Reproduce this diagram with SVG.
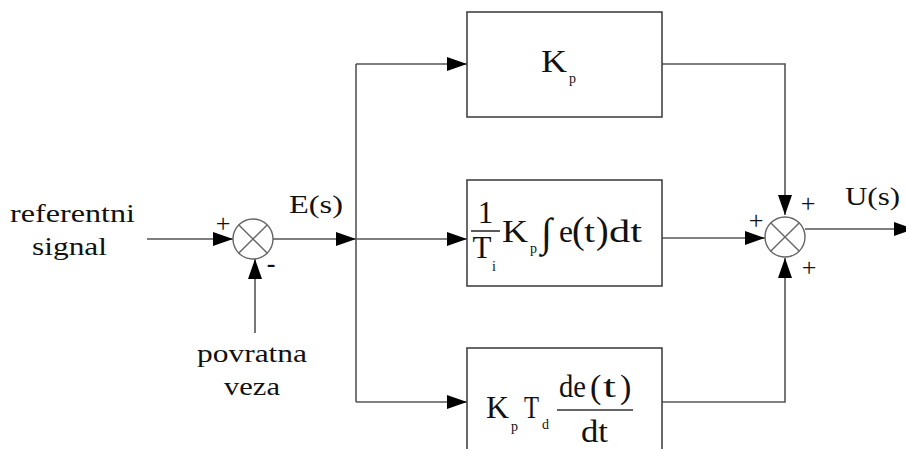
<svg xmlns="http://www.w3.org/2000/svg" width="906" height="449" viewBox="0 0 906 449">
<defs>
<style>
.ln{fill:none;stroke:#555;stroke-width:1.6}
.bx{fill:#fff;stroke:#444;stroke-width:1.6}
.sj{fill:#fff;stroke:#666;stroke-width:1.4}
.lab{font-size:25px}
.f{font-size:31px}
.s{font-size:14px}
.sg{font-size:26px}
</style>
<marker id="ar" viewBox="0 0 20 14" refX="20" refY="7" markerWidth="20" markerHeight="14" markerUnits="userSpaceOnUse" orient="auto">
<path d="M0,0 L20,7 L0,14 Z" fill="#000"/>
</marker>
</defs>
<rect width="906" height="449" fill="#fff"/>
<g id="connectors">
<line class="ln" x1="147" y1="239" x2="233" y2="239" marker-end="url(#ar)"/>
<line class="ln" x1="255" y1="333" x2="255" y2="259" marker-end="url(#ar)"/>
<line class="ln" x1="273" y1="239" x2="356" y2="239" marker-end="url(#ar)"/>
<line class="ln" x1="356" y1="64" x2="356" y2="402"/>
<polyline class="ln" points="356,64 467,64" marker-end="url(#ar)"/>
<line class="ln" x1="356" y1="239" x2="467" y2="239" marker-end="url(#ar)"/>
<polyline class="ln" points="356,402 467,402" marker-end="url(#ar)"/>
<polyline class="ln" points="662,64 785,64 785,215" marker-end="url(#ar)"/>
<line class="ln" x1="662" y1="238" x2="765" y2="238" marker-end="url(#ar)"/>
<polyline class="ln" points="662,402 785,402 785,258" marker-end="url(#ar)"/>
<line class="ln" x1="805" y1="229" x2="914" y2="229" marker-end="url(#ar)"/>
</g>
<g font-family="Liberation Serif, DejaVu Serif, Times New Roman, Times, serif" fill="#111">
<g id="sum1">
<circle class="sj" cx="253" cy="239" r="20"/>
<path class="sj" d="M238.9,224.9 L267.1,253.1 M267.1,224.9 L238.9,253.1"/>
<text class="sg" x="223" y="232" text-anchor="middle">+</text>
<text class="sg" x="271" y="272" text-anchor="middle" font-weight="bold">-</text>
</g>
<g id="sum2">
<circle class="sj" cx="785" cy="237" r="20"/>
<path class="sj" d="M770.9,222.9 L799.1,251.1 M799.1,222.9 L770.9,251.1"/>
<text class="sg" x="756" y="229" text-anchor="middle">+</text>
<text class="sg" x="808" y="212" text-anchor="middle">+</text>
<text class="sg" x="809" y="276" text-anchor="middle">+</text>
</g>
<g id="label-ref">
<text class="lab" x="10" y="222" textLength="125" lengthAdjust="spacingAndGlyphs">referentni</text>
<text class="lab" x="32" y="255" textLength="75" lengthAdjust="spacingAndGlyphs">signal</text>
</g>
<g id="label-fb">
<text class="lab" x="197" y="362" textLength="110" lengthAdjust="spacingAndGlyphs">povratna</text>
<text class="lab" x="224" y="395" textLength="56" lengthAdjust="spacingAndGlyphs">veza</text>
</g>
<g id="label-E">
<text class="lab" x="289" y="213" textLength="54" lengthAdjust="spacingAndGlyphs">E(s)</text>
</g>
<g id="label-U">
<text class="lab" x="845" y="205" textLength="55" lengthAdjust="spacingAndGlyphs">U(s)</text>
</g>
<g id="boxP">
<rect class="bx" x="467" y="12" width="195" height="105"/>
<text class="f" x="541" y="72" textLength="26" lengthAdjust="spacingAndGlyphs">K</text>
<text class="s" x="569" y="83">p</text>
</g>
<g id="boxI">
<rect class="bx" x="467" y="180" width="195" height="106"/>
<text class="f" x="485.5" y="223" text-anchor="middle">1</text>
<line x1="471" y1="231" x2="500" y2="231" stroke="#333" stroke-width="1.6"/>
<text class="f" x="482" y="258" text-anchor="middle">T</text>
<text class="s" x="492" y="271">i</text>
<text class="f" x="502" y="242" textLength="26" lengthAdjust="spacingAndGlyphs">K</text>
<text class="s" x="530" y="253">p</text>
<text x="541" y="246" font-size="40">∫</text>
<text class="f" x="559" y="242" textLength="14" lengthAdjust="spacingAndGlyphs">e</text>
<text x="572" y="243" font-size="38">(</text>
<text class="f" x="584" y="242" textLength="11" lengthAdjust="spacingAndGlyphs">t</text>
<text x="596" y="243" font-size="38">)</text>
<text class="f" x="609" y="242" textLength="33" lengthAdjust="spacingAndGlyphs">dt</text>
</g>
<g id="boxD">
<rect class="bx" x="467" y="348" width="195" height="110"/>
<text class="f" x="486" y="418" textLength="23" lengthAdjust="spacingAndGlyphs">K</text>
<text class="s" x="511" y="431">p</text>
<text class="f" x="524" y="418" textLength="15" lengthAdjust="spacingAndGlyphs">T</text>
<text class="s" x="542" y="429">d</text>
<text class="f" x="559" y="397" textLength="27" lengthAdjust="spacingAndGlyphs">de</text>
<text x="590" y="398" font-size="34">(</text>
<text class="f" x="603" y="397" textLength="13" lengthAdjust="spacingAndGlyphs">t</text>
<text x="620" y="398" font-size="34">)</text>
<line x1="557" y1="410" x2="633" y2="410" stroke="#333" stroke-width="1.6"/>
<text class="f" x="581" y="442" textLength="27" lengthAdjust="spacingAndGlyphs">dt</text>
</g>
</g>
</svg>
